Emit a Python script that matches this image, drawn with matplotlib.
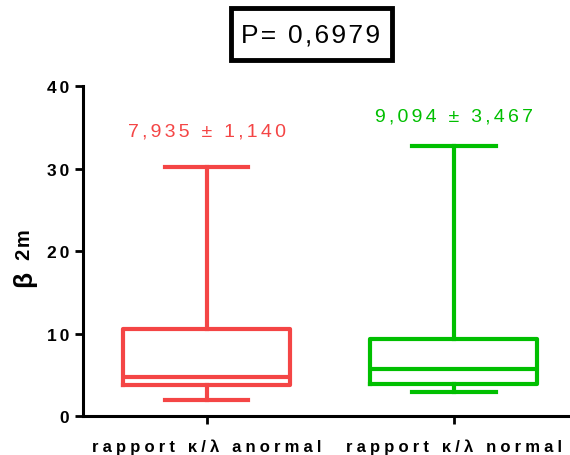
import matplotlib
matplotlib.use("Agg")
import matplotlib.pyplot as plt
from matplotlib.patches import Rectangle

plt.rcParams['font.family'] = ['Liberation Sans', 'DejaVu Sans']

# ---- data ----
groups = ["rapport κ/λ anormal", "rapport κ/λ normal"]
whis_lo = [1.9, 2.9]
q1 = [3.75, 3.9]
median = [4.7, 5.7]
q3 = [10.6, 9.3]
whis_hi = [30.2, 32.7]
mean_sd = ["7,935 ± 1,140", "9,094 ± 3,467"]
p_text = "P= 0,6979"
colors = ["#F44545", "#00BF00"]
label_y = [34.5, 36.4]
yticks = [0, 10, 20, 30, 40]

HAIR = "\u200a"


def spaced(s, n=1):
    return (HAIR * n).join(s)


fig = plt.figure(figsize=(5.7, 4.56), dpi=100)
ax = fig.add_axes([0.1456, 0.0855, 0.8544, 0.7237])

stats = [dict(med=m, q1=a, q3=b, whislo=lo, whishi=hi, label="")
         for m, a, b, lo, hi in zip(median, q1, q3, whis_lo, whis_hi)]
for i, st in enumerate(stats):
    c = colors[i]
    ax.bxp([st], positions=[i], widths=0.675, showfliers=False,
           boxprops=dict(color=c, lw=3),
           medianprops=dict(color=c, lw=3),
           whiskerprops=dict(color=c, lw=3),
           capprops=dict(color=c, lw=3))
    ax.text(i, label_y[i], spaced(mean_sd[i], 2), color=c, fontsize=14,
            ha="center", va="center")

ax.set_xlim(-0.5, 1.47)
ax.set_ylim(0, 40)
ax.set_yticks(yticks)
ax.set_yticklabels([spaced(str(v), 2) for v in yticks],
                   fontweight="bold", fontsize=12.5)
ax.set_xticks([0, 1])
ax.set_xticklabels([spaced(g, 3) for g in groups], fontweight="bold", fontsize=12)

for side in ["top", "right"]:
    ax.spines[side].set_visible(False)
for side in ["left", "bottom"]:
    ax.spines[side].set_linewidth(2.2)
ax.tick_params(axis="y", length=6, width=2, pad=4)
ax.tick_params(axis="x", length=6, width=2, pad=10)

# y label: big bold beta followed by "2m"
fig.text(24 / 570, 1 - 279 / 456, "β", rotation=90, fontsize=19,
         fontweight="bold", ha="center", va="center")
fig.text(25 / 570, 1 - 245 / 456, spaced("2m"), rotation=90, fontsize=14.5,
         fontweight="bold", ha="center", va="center")

# p-value in a thick black frame
fig.text(311 / 570, 1 - 36 / 456, spaced(p_text, 1), fontsize=19,
         ha="center", va="center")
fig.patches.append(Rectangle((231 / 570, 1 - 61 / 456), 161 / 570, 52 / 456,
                             transform=fig.transFigure, fill=False,
                             ec="black", lw=3.5))

fig.savefig("out.png", dpi=100)
